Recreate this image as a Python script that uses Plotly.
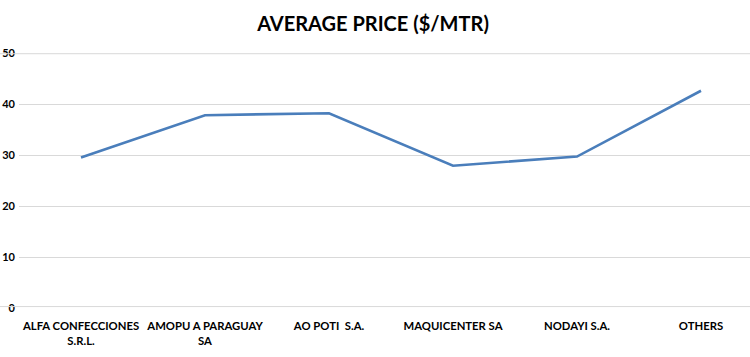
import plotly.graph_objects as go

categories = ["ALFA CONFECCIONES<br>S.R.L.", "AMOPU A PARAGUAY<br>SA", "AO POTI  S.A.",
              "MAQUICENTER SA", "NODAYI S.A.", "OTHERS"]
avg_price = [29.5, 37.8, 38.2, 27.9, 29.7, 42.6]
y_ticks = [0, 10, 20, 30, 40, 50]

W, H = 750, 357
fig = go.Figure()
fig.add_trace(go.Scatter(
    x=list(range(len(categories))), y=avg_price, mode="lines",
    line=dict(color="#4a7ebb", width=2.6), hoverinfo="skip"))

fig.update_layout(
    width=W, height=H,
    margin=dict(l=19, r=0, t=53, b=49, autoexpand=False),
    paper_bgcolor="white", plot_bgcolor="white",
    showlegend=False,
    title=dict(text="AVERAGE PRICE ($/MTR)", x=373 / W, xanchor="center",
               y=1 - 24 / H, yanchor="middle", automargin=False,
               font=dict(family="Lato", size=20, color="#000000", weight="bold")),
    xaxis=dict(tickmode="array", tickvals=list(range(len(categories))), ticktext=categories,
               range=[-0.5, -0.5 + 731 / 124], showgrid=False, zeroline=False,
               showline=False, ticks="", ticklabelstandoff=10, automargin=False,
               tickfont=dict(family="Lato", size=11.3, color="#000000", weight="bold")),
    yaxis=dict(range=[0, 50], tickvals=y_ticks, ticktext=[str(v) for v in y_ticks],
               showgrid=True, gridcolor="#d9d9d9", gridwidth=1, zeroline=False,
               showline=False, ticks="", ticklabelstandoff=3, automargin=False,
               tickfont=dict(family="Lato", size=11, color="#000000", weight="bold")),
    shapes=[
        dict(type="line", xref="paper", yref="paper", x0=-1, x1=2, y0=1 - 1 / H, y1=1 - 1 / H,
             line=dict(color="#d9d9d9", width=1)),
        dict(type="line", xref="paper", yref="paper", x0=-1, x1=2, y0=2 / H, y1=2 / H,
             line=dict(color="#d9d9d9", width=1)),
    ],
)
fig.write_html("out.html", config={"displayModeBar": False},
               post_script="document.body.style.margin='0';")
